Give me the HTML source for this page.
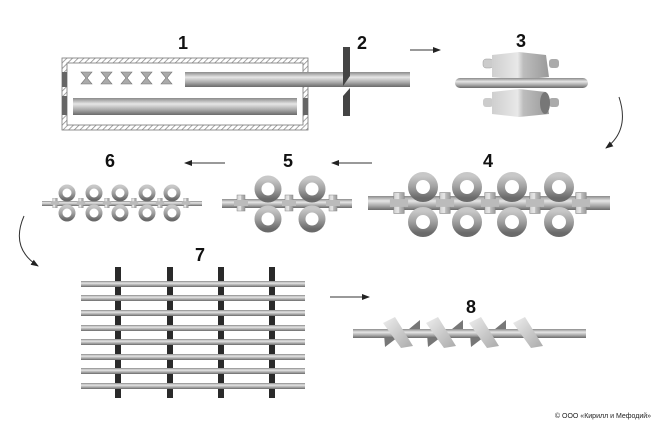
<!DOCTYPE html>
<html><head><meta charset="utf-8"><style>html,body{margin:0;padding:0;background:#fff}svg{display:block}</style></head><body>
<svg width="654" height="425" viewBox="0 0 654 425" xmlns="http://www.w3.org/2000/svg">
<defs>
<linearGradient id="rod" x1="0" y1="0" x2="0" y2="1"><stop offset="0" stop-color="#8a8a8a"/><stop offset="0.35" stop-color="#e6e6e6"/><stop offset="0.7" stop-color="#a8a8a8"/><stop offset="1" stop-color="#6a6a6a"/></linearGradient>
<linearGradient id="roll" x1="0" y1="0" x2="1" y2="0"><stop offset="0" stop-color="#cfcfcf"/><stop offset="0.45" stop-color="#e8e8e8"/><stop offset="0.55" stop-color="#bdbdbd"/><stop offset="1" stop-color="#9a9a9a"/></linearGradient>
<linearGradient id="ring" x1="0" y1="0" x2="0" y2="1"><stop offset="0" stop-color="#c8c8c8"/><stop offset="0.5" stop-color="#a0a0a0"/><stop offset="1" stop-color="#6a6a6a"/></linearGradient>
<linearGradient id="blade" x1="0" y1="0" x2="1" y2="1"><stop offset="0" stop-color="#eee"/><stop offset="1" stop-color="#aaa"/></linearGradient>
<pattern id="hatch" width="4" height="4" patternUnits="userSpaceOnUse" patternTransform="rotate(45)"><rect width="4" height="4" fill="#fff"/><line x1="0" y1="0" x2="0" y2="4" stroke="#888" stroke-width="1.5"/></pattern>
<marker id="ah" markerWidth="8" markerHeight="6" refX="7" refY="3" orient="auto" markerUnits="userSpaceOnUse"><path d="M0,0 L8,3 L0,6 Z" fill="#222"/></marker>
<g id="conn"><rect x="-4" y="-8" width="8" height="16" fill="url(#roll)" stroke="#888" stroke-width="0.5"/><rect x="-7" y="-3" width="14" height="6" fill="#bbb"/></g>
</defs>
<g font-family="Liberation Sans, sans-serif" font-weight="bold" font-size="18" fill="#111" text-anchor="middle">
<text x="183" y="49">1</text><text x="362" y="49">2</text><text x="521" y="47">3</text><text x="488" y="167">4</text><text x="288" y="167">5</text><text x="110" y="167">6</text><text x="200" y="261">7</text><text x="471" y="313">8</text>
</g>
<rect x="62" y="58" width="246" height="72" fill="url(#hatch)" stroke="#777" stroke-width="0.8"/>
<rect x="67" y="63" width="236" height="62" fill="#fff" stroke="#777" stroke-width="0.8"/>
<rect x="62" y="72" width="5" height="15" fill="#666"/><rect x="62" y="96" width="5" height="19" fill="#666"/><rect x="303" y="98" width="5" height="17" fill="#666"/>
<g fill="#aaa" stroke="#777" stroke-width="0.6">
<path d="M81,72 h11 l-5,6 l5,6 h-11 l5,-6z"/><path d="M101,72 h11 l-5,6 l5,6 h-11 l5,-6z"/><path d="M121,72 h11 l-5,6 l5,6 h-11 l5,-6z"/><path d="M141,72 h11 l-5,6 l5,6 h-11 l5,-6z"/><path d="M161,72 h11 l-5,6 l5,6 h-11 l5,-6z"/>
</g>
<rect x="185" y="72" width="225" height="15" fill="url(#rod)"/>
<rect x="73" y="98" width="224" height="17" fill="url(#rod)"/>
<path d="M343,47 h7 v29 l-7,10z" fill="#444"/><path d="M343,96 l7,-8 v28 h-7z" fill="#444"/>
<g stroke="#333" stroke-width="1" fill="none">
<line x1="410" y1="50" x2="440" y2="50" marker-end="url(#ah)"/>
<path d="M619,97 Q630,130 606,148" marker-end="url(#ah)"/>
<line x1="372" y1="163" x2="332" y2="163" marker-end="url(#ah)"/>
<line x1="225" y1="163" x2="185" y2="163" marker-end="url(#ah)"/>
<path d="M24,216 Q10,248 38,266" marker-end="url(#ah)"/>
<line x1="330" y1="297" x2="369" y2="297" marker-end="url(#ah)"/>
</g>
<rect x="483" y="59" width="10" height="9" rx="3" fill="#ccc" stroke="#999" stroke-width="0.5"/><rect x="549" y="59" width="10" height="9" rx="3" fill="#aaa"/>
<path d="M492,55 L519,52 L546,55 L549,77 L519,80 L492,77 Z" fill="url(#roll)"/>
<rect x="483" y="98" width="10" height="9" rx="3" fill="#ccc"/><rect x="549" y="98" width="10" height="9" rx="3" fill="#aaa"/>
<path d="M492,92 L519,89 L546,92 L549,114 L519,117 L492,114 Z" fill="url(#roll)"/>
<ellipse cx="545" cy="103" rx="5" ry="11" fill="#777"/>
<rect x="455" y="78" width="133" height="10" rx="5" fill="url(#rod)"/>
<rect x="368" y="196" width="242" height="14" fill="url(#rod)"/>
<g fill="none" stroke="url(#ring)" stroke-width="8">
<circle cx="423" cy="187" r="11"/><circle cx="467" cy="187" r="11"/><circle cx="512" cy="187" r="11"/><circle cx="559" cy="187" r="11"/>
<circle cx="423" cy="222" r="11"/><circle cx="467" cy="222" r="11"/><circle cx="512" cy="222" r="11"/><circle cx="559" cy="222" r="11"/>
</g>
<use href="#conn" transform="translate(399,203) scale(1.3)"/><use href="#conn" transform="translate(445,203) scale(1.3)"/><use href="#conn" transform="translate(490,203) scale(1.3)"/><use href="#conn" transform="translate(535,203) scale(1.3)"/><use href="#conn" transform="translate(581,203) scale(1.3)"/>
<rect x="222" y="199" width="130" height="9" fill="url(#rod)"/>
<g fill="none" stroke="url(#ring)" stroke-width="7">
<circle cx="268" cy="189" r="10"/><circle cx="312" cy="189" r="10"/><circle cx="268" cy="219" r="10"/><circle cx="312" cy="219" r="10"/>
</g>
<use href="#conn" transform="translate(241,203)"/><use href="#conn" transform="translate(289,203)"/><use href="#conn" transform="translate(333,203)"/>
<rect x="42" y="201" width="160" height="5" fill="url(#rod)"/>
<g fill="none" stroke="url(#ring)" stroke-width="4">
<circle cx="67" cy="193" r="6.5"/><circle cx="94" cy="193" r="6.5"/><circle cx="120" cy="193" r="6.5"/><circle cx="147" cy="193" r="6.5"/><circle cx="172" cy="193" r="6.5"/>
<circle cx="67" cy="213" r="6.5"/><circle cx="94" cy="213" r="6.5"/><circle cx="120" cy="213" r="6.5"/><circle cx="147" cy="213" r="6.5"/><circle cx="172" cy="213" r="6.5"/>
</g>
<use href="#conn" transform="translate(55,203) scale(0.6)"/><use href="#conn" transform="translate(81,203) scale(0.6)"/><use href="#conn" transform="translate(107,203) scale(0.6)"/><use href="#conn" transform="translate(134,203) scale(0.6)"/><use href="#conn" transform="translate(160,203) scale(0.6)"/><use href="#conn" transform="translate(186,203) scale(0.6)"/>
<g fill="#2a2a2a"><rect x="115" y="267" width="6" height="131"/><rect x="167" y="267" width="6" height="131"/><rect x="218" y="267" width="6" height="131"/><rect x="269" y="267" width="6" height="131"/></g>
<g fill="url(#rod)">
<rect x="81" y="281" width="224" height="6"/><rect x="81" y="295" width="224" height="6"/><rect x="81" y="310" width="224" height="6"/><rect x="81" y="325" width="224" height="6"/><rect x="81" y="339" width="224" height="6"/><rect x="81" y="354" width="224" height="6"/><rect x="81" y="368" width="224" height="6"/><rect x="81" y="383" width="224" height="6"/>
</g>
<g fill="#777"><path d="M403,334 L420,320 L420,334Z"/><path d="M446,334 L463,320 L463,334Z"/><path d="M489,334 L506,320 L506,334Z"/>
<path d="M384,334 L402,334 L385,347Z"/><path d="M427,334 L445,334 L428,347Z"/><path d="M470,334 L488,334 L471,347Z"/></g>
<rect x="353" y="329" width="233" height="9" fill="url(#rod)"/>
<g fill="url(#blade)"><path d="M383,323 L395,317 L413,346 L401,348Z"/><path d="M426,323 L438,317 L456,346 L444,348Z"/><path d="M469,323 L481,317 L499,346 L487,348Z"/><path d="M513,323 L525,317 L543,346 L531,348Z"/></g>
<text x="603" y="418" font-family="Liberation Sans, sans-serif" font-size="7" fill="#222" text-anchor="middle">© ООО «Кирилл и Мефодий»</text>
</svg>
</body></html>
